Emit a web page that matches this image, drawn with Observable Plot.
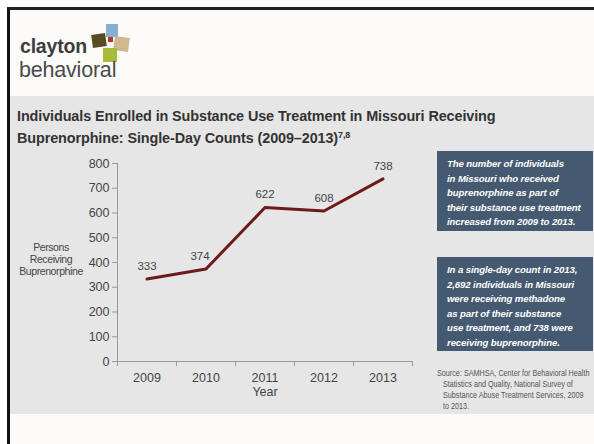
<!DOCTYPE html>
<html>
<head>
<meta charset="utf-8">
<script src="https://cdn.jsdelivr.net/npm/d3@7"></script>
<script src="https://cdn.jsdelivr.net/npm/@observablehq/plot@0.6"></script>
<style>
  html, body { margin: 0; padding: 0; background: #ffffff; }
  #page { position: relative; width: 594px; height: 444px; overflow: hidden; background: #ffffff; font-family: "Liberation Sans", Arial, sans-serif; }
  #frame { position: absolute; left: 7px; top: 7px; width: 600px; height: 450px; border-left: 3px solid #111; border-top: 3px solid #222; background: #fcfbf9; }
  #panel { position: absolute; left: 10px; top: 96px; width: 584px; height: 318px; background: #e6e6e6; }
  .sq { position: absolute; }
  #brand1 { position: absolute; left: 20px; top: 37px; font-size: 19.5px; line-height: 19px; font-weight: bold; color: #3d3d3d; letter-spacing: -0.2px; }
  #brand2 { position: absolute; left: 19px; top: 60px; font-size: 21.5px; line-height: 20px; color: #4a4a4a; letter-spacing: -0.2px; }
  #title { position: absolute; left: 17px; top: 107px; font-size: 14.4px; line-height: 18.5px; color: #333; font-weight: bold; letter-spacing: -0.1px; }
  #title sup { font-size: 9px; vertical-align: 5px; }
  #ylab { position: absolute; left: 12px; top: 241px; width: 78px; text-align: center; font-size: 10.5px; line-height: 12px; color: #444; letter-spacing: -0.4px; }
  .box { position: absolute; left: 437px; width: 156px; background: #455a71; color: #fff; font-weight: bold; font-style: italic; font-size: 9.6px; line-height: 14.5px; padding: 6px 0 0 10px; box-sizing: border-box; letter-spacing: -0.1px; }
  #src { position: absolute; left: 437px; top: 368px; white-space: nowrap; font-size: 8.6px; line-height: 11px; color: #555; transform: scaleX(0.84); transform-origin: 0 0; }
  #chart { position: absolute; left: 0; top: 150px; }
</style>
</head>
<body>
<div id="page">
  <div id="frame"></div>
  <div id="panel"></div>
  <div class="sq" style="left:92px;top:34px;width:14px;height:13px;background:#5a4a26;transform:rotate(-8deg)"></div>
  <div class="sq" style="left:106px;top:24px;width:12px;height:13px;background:#86afd0"></div>
  <div class="sq" style="left:114px;top:37px;width:15px;height:14px;background:#cdb88f;transform:rotate(8deg)"></div>
  <div class="sq" style="left:108px;top:37px;width:5px;height:5px;background:#b23a2a"></div>
  <div class="sq" style="left:103px;top:48px;width:14px;height:14px;background:#a9bb3a"></div>
  <div id="brand1">clayton</div>
  <div id="brand2">behavioral</div>
  <div id="title">Individuals Enrolled in Substance Use Treatment in Missouri Receiving<br>Buprenorphine: Single-Day Counts (2009–2013)<sup>7,8</sup></div>
  <div id="ylab">Persons<br>Receiving<br>Buprenorphine</div>
  <div class="box" style="top:151px;height:80px">The number of individuals<br>in Missouri who received<br>buprenorphine as part of<br>their substance use treatment<br>increased from 2009 to 2013.</div>
  <div class="box" style="top:257px;height:94px">In a single-day count in 2013,<br>2,692 individuals in Missouri<br>were receiving methadone<br>as part of their substance<br>use treatment, and 738 were<br>receiving buprenorphine.</div>
  <div id="src">Source: SAMHSA, Center for Behavioral Health<br>&nbsp;&nbsp;&nbsp;Statistics and Quality, National Survey of<br>&nbsp;&nbsp;&nbsp;Substance Abuse Treatment Services, 2009<br>&nbsp;&nbsp;&nbsp;to 2013.</div>
  <div id="chart"></div>
</div>
<script>
const years = [2009, 2010, 2011, 2012, 2013];
const persons = [333, 374, 622, 608, 738];
const yTicks = [0, 100, 200, 300, 400, 500, 600, 700, 800];
const boundaries = [2008.5, 2009.5, 2010.5, 2011.5, 2012.5, 2013.5];

const data = years.map((y, i) => ({year: y, value: persons[i]}));
const shifted = data.filter(d => d.year === 2010);
const centered = data.filter(d => d.year !== 2010);

const chart = Plot.plot({
  width: 420,
  height: 260,
  marginLeft: 117,
  marginRight: 8,
  marginTop: 13,
  marginBottom: 49,
  style: {background: "transparent", fontFamily: "Liberation Sans, Arial, sans-serif", fontSize: "12px", color: "#444"},
  x: {domain: [2008.5, 2013.5]},
  y: {domain: [0, 800]},
  marks: [
    Plot.ruleY([0], {stroke: "#999", strokeWidth: 1}),
    Plot.ruleX([2008.5], {y1: 0, y2: 800, stroke: "#999", strokeWidth: 1}),
    Plot.axisY({ticks: yTicks, tickSize: 5, tickPadding: 3, stroke: "#999", label: null, fill: "#444", fontSize: 12.5}),
    Plot.axisX({ticks: boundaries, tickSize: 5, tickFormat: () => "", stroke: "#999", label: null}),
    Plot.axisX({ticks: years, tickSize: 0, tickPadding: 12, tickFormat: d => String(d), label: "Year", labelAnchor: "center", labelArrow: "none", labelOffset: 34, fill: "#444", fontSize: 12.5}),
    Plot.line(data, {x: "year", y: "value", stroke: "#6e1a1a", strokeWidth: 3}),
    Plot.text(centered, {x: "year", y: "value", text: d => String(d.value), dy: -13, fill: "#444", fontSize: 11.5}),
    Plot.text(shifted, {x: "year", y: "value", text: d => String(d.value), dy: -13, dx: -6, fill: "#444", fontSize: 11.5})
  ]
});
document.getElementById("chart").appendChild(chart);
</script>
</body>
</html>
